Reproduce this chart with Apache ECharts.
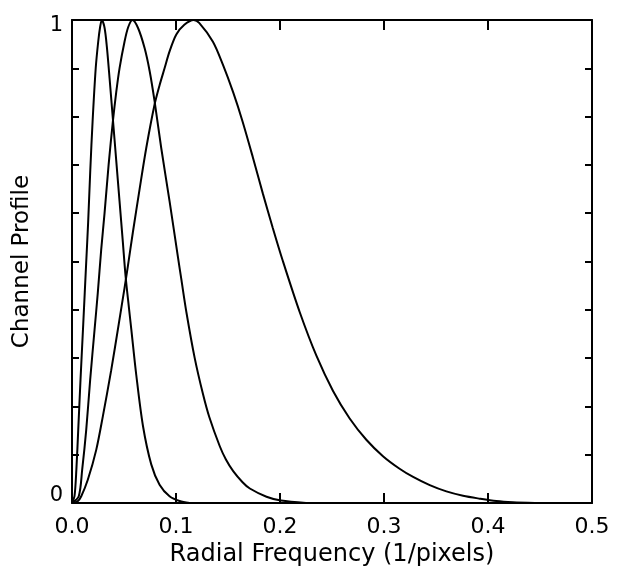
<!DOCTYPE html>
<html>
<head>
<meta charset="utf-8">
<script src="https://cdn.jsdelivr.net/npm/echarts@6/dist/echarts.min.js"></script>
<style>
  html, body { margin: 0; padding: 0; background: #fff; }
  #chart { width: 624px; height: 580px; }
</style>
</head>
<body>
<div id="chart"></div>
<script>
    // channel profiles (radial frequency, profile)
    let freq1 = [0, 0.0024, 0.0042, 0.006, 0.0082, 0.0108, 0.0137, 0.0155, 0.0176, 0.0198, 0.0228, 0.0252, 0.027, 0.0287,
        0.0313, 0.0335, 0.0361, 0.0393, 0.0425, 0.0457, 0.0489, 0.0515, 0.0547, 0.057, 0.0618, 0.0682, 0.0762,
        0.0842, 0.0938, 0.1035, 0.113]
    let prof1 = [0, 0.014, 0.069, 0.152, 0.256, 0.37, 0.50, 0.58, 0.69, 0.79, 0.90, 0.955, 0.985, 1.0,
        0.984, 0.945, 0.88, 0.795, 0.71, 0.625, 0.54, 0.47, 0.405, 0.36, 0.265, 0.16, 0.08,
        0.038, 0.014, 0.004, 0]

    let freq2 = [0, 0.0065, 0.0098, 0.0137, 0.0175, 0.0217, 0.0248, 0.0281, 0.0313, 0.0352, 0.0393, 0.0425, 0.0457,
        0.0505, 0.054, 0.058, 0.0634, 0.0698, 0.0746, 0.0794, 0.0858, 0.0938, 0.1018, 0.105, 0.110, 0.118, 0.126,
        0.132, 0.142, 0.148, 0.155, 0.164, 0.171, 0.187, 0.201, 0.225]
    let prof2 = [0, 0.014, 0.069, 0.152, 0.256, 0.359, 0.435, 0.525, 0.60, 0.70, 0.79, 0.85, 0.90,
        0.955, 0.985, 1.0, 0.984, 0.942, 0.895, 0.832, 0.735, 0.625, 0.51, 0.465, 0.395, 0.30, 0.225,
        0.178, 0.118, 0.09, 0.066, 0.043, 0.03, 0.013, 0.005, 0]

    let freq3 = [0, 0.0056, 0.0089, 0.0152, 0.0233, 0.0297, 0.0377, 0.0449, 0.0505, 0.0537, 0.0585, 0.065, 0.0714,
        0.0794, 0.0842, 0.089, 0.0938, 0.1003, 0.108, 0.117, 0.1223, 0.1355, 0.145, 0.155, 0.164, 0.174,
        0.1836, 0.193, 0.2029, 0.219, 0.235, 0.251, 0.267, 0.283, 0.299, 0.315, 0.328, 0.344, 0.360,
        0.376, 0.392, 0.408, 0.424, 0.445]
    let prof3 = [0, 0.004, 0.014, 0.048, 0.11, 0.18, 0.275, 0.37, 0.445, 0.49, 0.56, 0.65, 0.735,
        0.825, 0.865, 0.90, 0.935, 0.97, 0.99, 1.0, 0.994, 0.955, 0.908, 0.85, 0.79, 0.715,
        0.64, 0.57, 0.50, 0.395, 0.305, 0.232, 0.175, 0.131, 0.097, 0.071, 0.054, 0.037, 0.024,
        0.015, 0.009, 0.004, 0.0015, 0]

    let xTicks = [0, 0.1, 0.2, 0.3, 0.4, 0.5]
    let yLabels = ['0', '1']

    let font = 'DejaVu Sans'

    function pairs(xs, ys) {
        return xs.map((x, i) => [x, ys[i]])
    }

    function lineSeries(xs, ys) {
        return {
            type: 'line',
            data: pairs(xs, ys),
            showSymbol: false,
            symbol: 'none',
            smooth: 0.3,
            lineStyle: { color: '#000', width: 2 },
            xAxisIndex: 0,
            yAxisIndex: 0,
            z: 3
        }
    }

    let axisLine = { show: true, onZero: false, lineStyle: { color: '#000', width: 2 } }
    let tickX = { show: true, inside: true, length: 10, lineStyle: { color: '#000', width: 2 } }
    let tickY = { show: true, inside: true, length: 7, lineStyle: { color: '#000', width: 2 } }

    let option = {
        backgroundColor: '#fff',
        animation: false,
        grid: {
            left: 72,
            right: 32,
            top: 20,
            bottom: 77,
            containLabel: false,
            outerBoundsMode: 'none'
        },
        xAxis: [
            {
                type: 'value',
                position: 'bottom',
                min: xTicks[0],
                max: xTicks[xTicks.length - 1],
                interval: 0.1,
                axisLine: axisLine,
                axisTick: tickX,
                axisLabel: {
                    show: true,
                    margin: 13,
                    color: '#000',
                    fontFamily: font,
                    fontSize: 22,
                    formatter: v => v.toFixed(1)
                },
                splitLine: { show: false },
                name: 'Radial Frequency (1/pixels)',
                nameLocation: 'middle',
                nameGap: 40,
                nameTextStyle: { color: '#000', fontFamily: font, fontSize: 24 }
            },
            {
                type: 'value',
                position: 'top',
                min: xTicks[0],
                max: xTicks[xTicks.length - 1],
                interval: 0.1,
                axisLine: axisLine,
                axisTick: tickX,
                axisLabel: { show: false },
                splitLine: { show: false }
            }
        ],
        yAxis: [
            {
                type: 'value',
                position: 'left',
                min: 0,
                max: 1,
                interval: 0.1,
                axisLine: axisLine,
                axisTick: tickY,
                axisLabel: {
                    show: true,
                    margin: 9,
                    color: '#000',
                    fontFamily: font,
                    fontSize: 21,
                    formatter: function (v) {
                        if (Math.abs(v) < 1e-9) return '{lo|' + yLabels[0] + '}'
                        if (Math.abs(v - 1) < 1e-9) return '{hi|' + yLabels[1] + '}'
                        return ''
                    },
                    rich: {
                        lo: { fontFamily: font, fontSize: 21, color: '#000', padding: [0, 0, 14, 0] },
                        hi: { fontFamily: font, fontSize: 21, color: '#000', padding: [12, 0, 0, 0] }
                    }
                },
                splitLine: { show: false },
                name: 'Channel Profile',
                nameLocation: 'middle',
                nameGap: 38,
                nameRotate: 90,
                nameTextStyle: { color: '#000', fontFamily: font, fontSize: 23 }
            },
            {
                type: 'value',
                position: 'right',
                min: 0,
                max: 1,
                interval: 0.1,
                axisLine: axisLine,
                axisTick: tickY,
                axisLabel: { show: false },
                splitLine: { show: false }
            }
        ],
        series: [
            lineSeries(freq1, prof1),
            lineSeries(freq2, prof2),
            lineSeries(freq3, prof3)
        ]
    }

    let myChart = echarts.init(document.getElementById('chart'))
    myChart.setOption(option)
</script>
</body>
</html>
